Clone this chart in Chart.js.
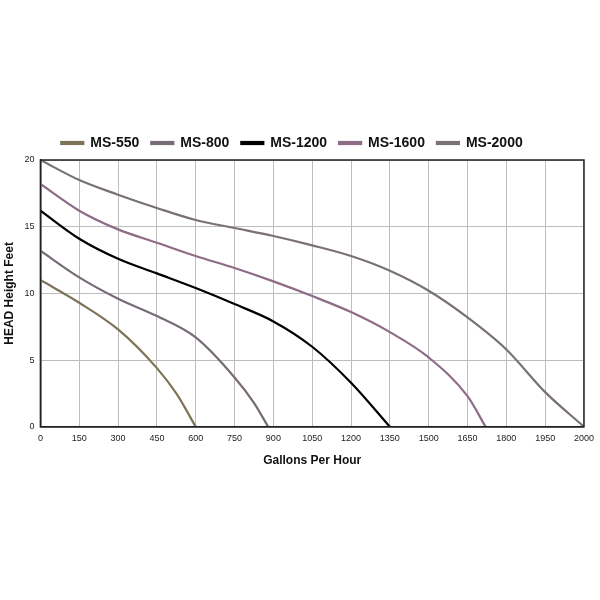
<!DOCTYPE html>
<html>
<head>
<script src="https://cdn.jsdelivr.net/npm/chart.js@4"></script>
<style>
  body { margin: 0; background: #fff; }
  #wrap { width: 600px; height: 600px; }
</style>
</head>
<body>
<div id="wrap"><canvas id="chart"></canvas></div>
<script>
// x axis is evenly spaced like a category axis: the last step (1950 -> 2000) is as wide as the others
const xTicks = [0, 150, 300, 450, 600, 750, 900, 1050, 1200, 1350, 1500, 1650, 1800, 1950, 2000];
const seriesNames = ["MS-550", "MS-800", "MS-1200", "MS-1600", "MS-2000"];
const seriesColors = ["#7d7458", "#776b78", "#000000", "#8e6c86", "#7a7078"];

const ms550 = [[0, 11], [150, 9.3], [300, 7.3], [450, 4.4], [525, 2.5], [600, 0]];
const ms800 = [[0, 13.2], [150, 11.2], [300, 9.6], [450, 8.3], [600, 6.7], [750, 3.7], [825, 1.8], [880, 0]];
const ms1200 = [[0, 16.2], [150, 14.1], [300, 12.6], [450, 11.5], [600, 10.4], [750, 9.2], [900, 7.9], [1050, 6], [1200, 3.3], [1350, 0]];
const ms1600 = [[0, 18.2], [150, 16.2], [300, 14.8], [450, 13.8], [600, 12.8], [750, 11.9], [900, 10.9], [1050, 9.8], [1200, 8.6], [1350, 7.1], [1500, 5.2], [1650, 2.3], [1720, 0]];
const ms2000 = [[0, 20], [150, 18.5], [300, 17.4], [450, 16.4], [600, 15.5], [750, 14.9], [900, 14.3], [1050, 13.6], [1200, 12.8], [1350, 11.7], [1500, 10.2], [1650, 8.2], [1800, 5.8], [1950, 2.6], [2000, 0]];

const allSeries = [ms550, ms800, ms1200, ms1600, ms2000];

// gallons -> position on the evenly spaced tick axis
function toIndex(v) {
  for (let i = 0; i < xTicks.length - 1; i++) {
    if (v <= xTicks[i + 1]) return i + (v - xTicks[i]) / (xTicks[i + 1] - xTicks[i]);
  }
  return xTicks.length - 1;
}

const datasets = allSeries.map((s, i) => ({
  label: seriesNames[i],
  data: s.map(([x, y]) => ({ x: toIndex(x), y })),
  borderColor: seriesColors[i],
  backgroundColor: seriesColors[i],
  borderWidth: 2.2,
  pointRadius: 0,
  cubicInterpolationMode: "monotone",
  fill: false,
}));

new Chart(document.getElementById("chart"), {
  type: "line",
  data: { datasets },
  options: {
    responsive: true,
    maintainAspectRatio: false,
    animation: false,
    layout: { padding: { top: 124, right: 16, bottom: 128, left: 0 } },
    plugins: {
      legend: {
        position: "top",
        labels: {
          boxWidth: 22,
          boxHeight: 2,
          padding: 12,
          color: "#111",
          font: { family: "Liberation Sans, Arial", size: 14, weight: "bold" },
        },
      },
      tooltip: { enabled: false },
    },
    scales: {
      x: {
        type: "linear",
        min: 0,
        max: xTicks.length - 1,
        afterBuildTicks: (axis) => { axis.ticks = xTicks.map((v, i) => ({ value: i })); },
        grid: { color: "#bdbdbd", drawTicks: false },
        border: { color: "#222", width: 1.5 },
        ticks: {
          color: "#222", padding: 6, maxRotation: 0, autoSkip: false,
          font: { family: "Liberation Sans, Arial", size: 9 },
          callback: (value) => String(xTicks[value]),
        },
        title: { display: true, text: "Gallons Per Hour", color: "#111", font: { family: "Liberation Sans, Arial", size: 12, weight: "bold" } },
      },
      y: {
        min: 0,
        max: 20,
        ticks: { stepSize: 5, color: "#222", padding: 6, font: { family: "Liberation Sans, Arial", size: 9 } },
        grid: { color: "#bdbdbd", drawTicks: false },
        border: { color: "#222", width: 1.5 },
        title: { display: true, text: "HEAD Height Feet", color: "#111", padding: 2, font: { family: "Liberation Sans, Arial", size: 12, weight: "bold" } },
      },
    },
  },
  plugins: [{
    id: "frame",
    afterDraw(chart) {
      const { ctx, chartArea: a } = chart;
      ctx.save();
      ctx.strokeStyle = "#222";
      ctx.lineWidth = 1.5;
      ctx.strokeRect(a.left, a.top, a.right - a.left, a.bottom - a.top);
      ctx.restore();
    },
  }],
});
</script>
</body>
</html>
